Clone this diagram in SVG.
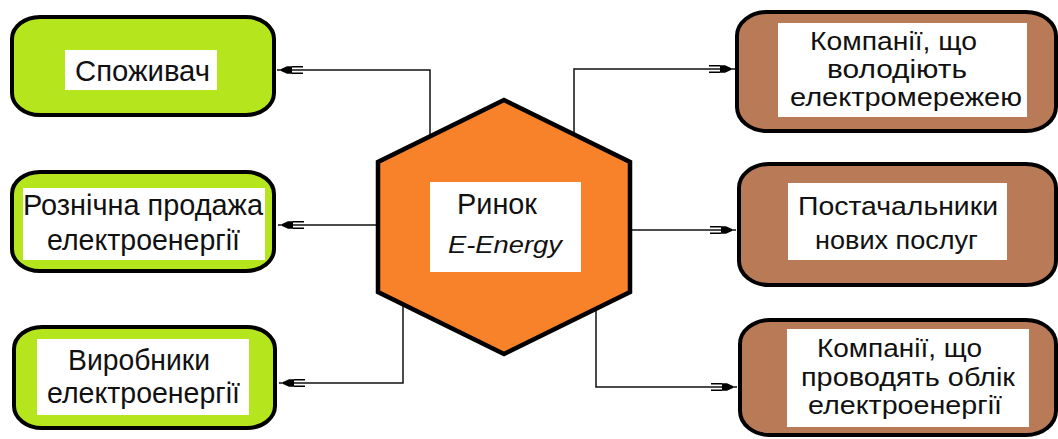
<svg xmlns="http://www.w3.org/2000/svg" width="1058" height="439" viewBox="0 0 1058 439">
  <style>
    .box { stroke: #000; stroke-width: 4; }
    .green { fill: #b5e61d; }
    .brown { fill: #b97a57; }
    .label { fill: #fff; }
    .t { font-family: "Liberation Sans", Arial, sans-serif; fill: #111; }
    .l { font-size: 29px; }
    .r { font-size: 25px; }
    .conn { fill: none; stroke: #111; stroke-width: 1.5; }
  </style>
  <defs>
    <marker id="plug" markerUnits="userSpaceOnUse" markerWidth="32" markerHeight="12" refX="30" refY="6" orient="auto" overflow="visible">
      <polygon points="15,2.3 20,2.3 26,5.1 26,6.9 20,9.7 15,9.7" fill="#000"/>
      <path d="M4,2.8 H15 M4,9.2 H15" stroke="#000" stroke-width="1.5" fill="none"/>
    </marker>
  </defs>

  <g id="connectors">
    <path class="conn" d="M430,136 V70 H277" marker-end="url(#plug)"/>
    <path class="conn" d="M378,225 H278" marker-end="url(#plug)"/>
    <path class="conn" d="M403,304 V383 H279" marker-end="url(#plug)"/>
    <path class="conn" d="M574,134 V69 H735" marker-end="url(#plug)"/>
    <path class="conn" d="M630,230 H736" marker-end="url(#plug)"/>
    <path class="conn" d="M596,309 V387 H737" marker-end="url(#plug)"/>
  </g>

  <g id="market">
    <polygon points="504,100 630,162 630,292 504,354 378,292 378,162" fill="#f7822a" stroke="#000" stroke-width="4.5"/>
    <rect class="label" x="430" y="182" width="151" height="90"/>
    <text class="t l" x="457" y="214" textLength="80" lengthAdjust="spacingAndGlyphs">Ринок</text>
    <text class="t" x="448" y="253" font-size="24" font-style="italic" textLength="114" lengthAdjust="spacingAndGlyphs">E-Energy</text>
  </g>

  <g id="consumer">
    <rect class="box green" x="12" y="17" width="262" height="98" rx="28" ry="22"/>
    <rect class="label" x="65" y="50" width="152" height="40"/>
    <text class="t l" x="75" y="81" textLength="135" lengthAdjust="spacingAndGlyphs">Споживач</text>
  </g>

  <g id="retail">
    <rect class="box green" x="12" y="172" width="262" height="99" rx="28" ry="22"/>
    <rect class="label" x="23" y="188" width="242" height="72"/>
    <text class="t l" x="23" y="215" textLength="240" lengthAdjust="spacingAndGlyphs">Рознічна продажа</text>
    <text class="t l" x="47" y="250" textLength="193" lengthAdjust="spacingAndGlyphs">електроенергії</text>
  </g>

  <g id="producers">
    <rect class="box green" x="14" y="327" width="261" height="101" rx="28" ry="22"/>
    <rect class="label" x="37" y="339" width="212" height="76"/>
    <text class="t l" x="68" y="370" textLength="142" lengthAdjust="spacingAndGlyphs">Виробники</text>
    <text class="t l" x="47" y="403" textLength="193" lengthAdjust="spacingAndGlyphs">електроенергії</text>
  </g>

  <g id="grid-owners">
    <rect class="box brown" x="737" y="12" width="319" height="119" rx="30" ry="24"/>
    <rect class="label" x="778" y="23" width="249" height="94"/>
    <text class="t r" x="810" y="50" textLength="167" lengthAdjust="spacingAndGlyphs">Компанії, що</text>
    <text class="t r" x="827" y="78" textLength="140" lengthAdjust="spacingAndGlyphs">володіють</text>
    <text class="t r" x="790" y="106" textLength="232" lengthAdjust="spacingAndGlyphs">електромережею</text>
  </g>

  <g id="new-services">
    <rect class="box brown" x="739" y="164" width="317" height="121" rx="30" ry="24"/>
    <rect class="label" x="788" y="183" width="219" height="77"/>
    <text class="t r" x="798" y="215" textLength="200" lengthAdjust="spacingAndGlyphs">Постачальники</text>
    <text class="t r" x="815" y="249" textLength="163" lengthAdjust="spacingAndGlyphs">нових послуг</text>
  </g>

  <g id="metering">
    <rect class="box brown" x="740" y="320" width="316" height="115" rx="30" ry="24"/>
    <rect class="label" x="787" y="329" width="242" height="98"/>
    <text class="t r" x="817" y="357" textLength="165" lengthAdjust="spacingAndGlyphs">Компанії, що</text>
    <text class="t r" x="801" y="386" textLength="214" lengthAdjust="spacingAndGlyphs">проводять облік</text>
    <text class="t r" x="808" y="414" textLength="194" lengthAdjust="spacingAndGlyphs">електроенергії</text>
  </g>
</svg>
